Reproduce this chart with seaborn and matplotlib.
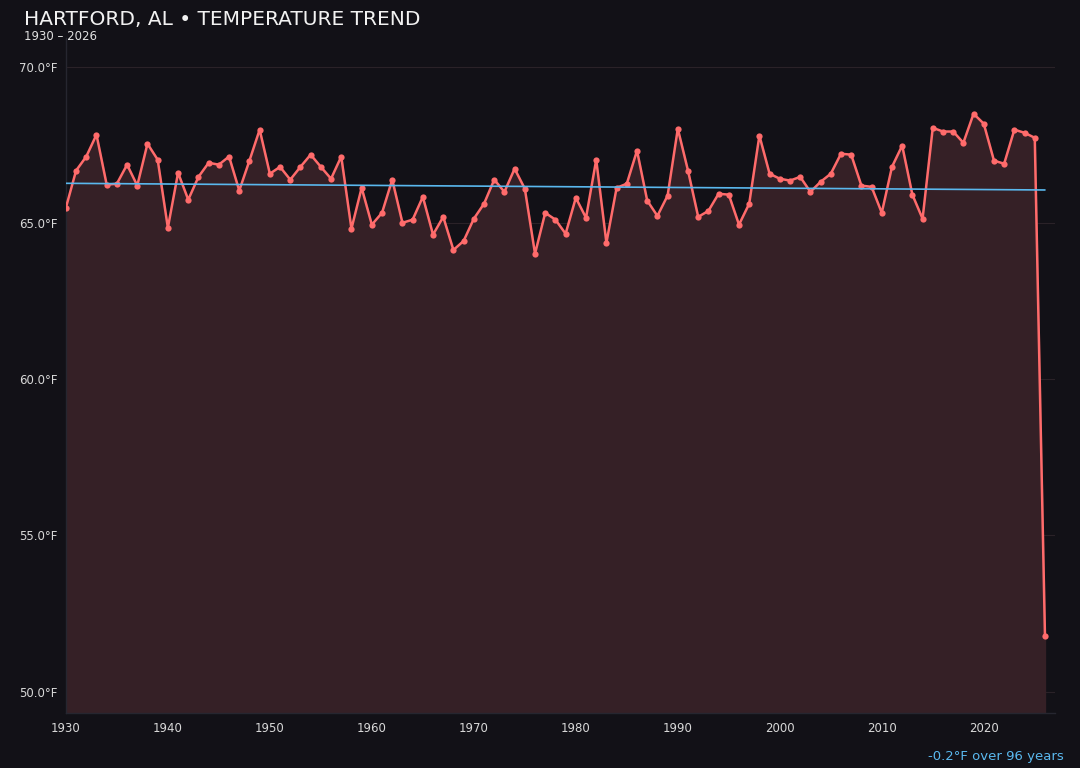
import matplotlib
matplotlib.use("Agg")
import matplotlib.pyplot as plt
import seaborn as sns
import numpy as np
import pandas as pd

years = list(range(1930, 2027))
temps = [
    65.48, 66.67, 67.12, 67.82, 66.22, 66.25, 66.86, 66.19, 67.53, 67.02,
    64.84, 66.60, 65.74, 66.47, 66.92, 66.86, 67.12, 66.03, 66.99, 67.98,
    66.57, 66.79, 66.38, 66.79, 67.18, 66.79, 66.41, 67.12, 64.81, 66.12,
    64.94, 65.32, 66.38, 65.00, 65.10, 65.83, 64.62, 65.19, 64.13, 64.42,
    65.13, 65.61, 66.38, 65.99, 66.73, 66.09, 64.01, 65.32, 65.10, 64.65,
    65.80, 65.16, 67.02, 64.36, 66.12, 66.25, 67.31, 65.71, 65.22, 65.87,
    68.01, 66.67, 65.19, 65.38, 65.93, 65.90, 64.94, 65.61, 67.79, 66.57,
    66.41, 66.35, 66.47, 65.99, 66.31, 66.57, 67.21, 67.18, 66.19, 66.15,
    65.32, 66.79, 67.47, 65.90, 65.13, 68.04, 67.92, 67.92, 67.56, 68.49,
    68.17, 66.99, 66.89, 67.98, 67.88, 67.72, 51.79,
]
yticks = [50, 55, 60, 65, 70]
xticks = [1930, 1940, 1950, 1960, 1970, 1980, 1990, 2000, 2010, 2020]

df = pd.DataFrame({"year": years, "temp": temps})
slope, intercept = np.polyfit(df["year"], df["temp"], 1)
df["trend"] = slope * df["year"] + intercept
change = slope * (years[-1] - years[0])

bg = "#121117"
sns.set_theme(style="dark")
plt.rcParams["font.family"] = ["DejaVu Sans"]

fig = plt.figure(figsize=(10.8, 7.68), dpi=100, facecolor=bg)
ax = fig.add_axes([0.061, 0.071, 0.916, 0.879])
ax.set_facecolor(bg)

ylo, yhi = 49.3, 70.9
ax.fill_between(df["year"], df["temp"], ylo, color="#352026", zorder=1)
sns.lineplot(data=df, x="year", y="temp", ax=ax, color="#ff6b6b", linewidth=1.8,
             marker="o", markersize=4.5, markeredgewidth=0, zorder=3)
sns.lineplot(data=df, x="year", y="trend", ax=ax, color="#5ab8ee", linewidth=1.2, zorder=4)

ax.set_xlim(1930, 2027)
ax.set_ylim(ylo, yhi)
ax.set_xticks(xticks)
ax.set_yticks(yticks)
ax.set_yticklabels([f"{v:.1f}°F" for v in yticks])
ax.tick_params(colors="#d8d8d8", labelsize=8.5, length=2, pad=4, color="#333340")
ax.set_xlabel("")
ax.set_ylabel("")
ax.grid(axis="y", color="#2a2228", linewidth=0.8)
ax.grid(axis="x", visible=False)
for side in ["top", "right"]:
    ax.spines[side].set_visible(False)
for side in ["left", "bottom"]:
    ax.spines[side].set_color("#262630")
    ax.spines[side].set_linewidth(1.0)

fig.text(0.022, 0.975, "HARTFORD, AL • TEMPERATURE TREND", color="#f2f2f2",
         fontsize=14.5, va="center", ha="left")
fig.text(0.022, 0.953, "1930 – 2026", color="#e0e0e0", fontsize=8.5, va="center", ha="left")
fig.text(0.985, 0.007, f"{change:.1f}°F over {years[-1] - years[0]} years",
         color="#5ab8ee", fontsize=9.5, ha="right", va="bottom")

fig.savefig("out.png", dpi=100, facecolor=bg)
